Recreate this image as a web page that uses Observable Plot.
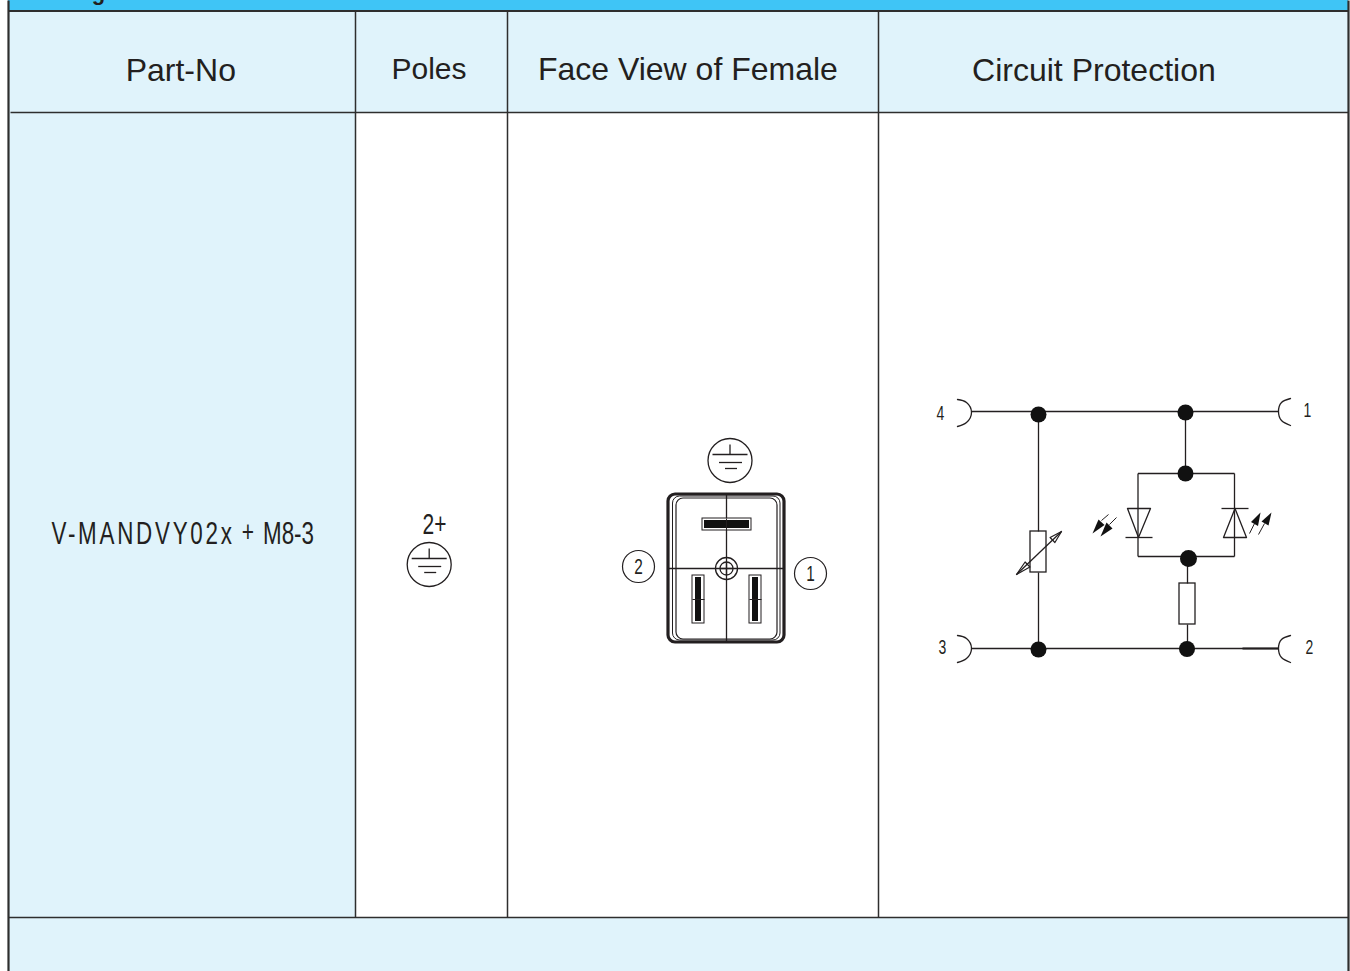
<!DOCTYPE html>
<html><head><meta charset="utf-8">
<script src="https://cdn.jsdelivr.net/npm/d3@7"></script>
<script src="https://cdn.jsdelivr.net/npm/@observablehq/plot@0.6"></script>
<style>
html,body{margin:0;padding:0;background:#fff}
svg{display:block}
.spaced text{letter-spacing:3.9px}
</style></head><body><div id="chart"></div>
<script>
const INK="#231f20", BAND="#3fc5f6", LIGHT="#e0f3fb", RULE="#2e2e2e";
// panels: x1,y1,x2,y2,fill
const panels=[
 [8,0,1348,10,BAND],[8,11,1348,112,LIGHT],[8,112,355,917,LIGHT],[8,917,1348,971,LIGHT]
];
// table rules: x1,y1,x2,y2,width
const rules=[
 [8,0,8,971,2.2],[1348,0,1348,971,2.2],[8,10.5,1348,10.5,2],[10,112,1348,112,1.6],[8,917,1348,917,1.6],
 [355,11,355,917,1.5],[507,11,507,917,1.5],[878,11,878,917,1.5]
];
// header labels
const headers=["Part-No","Poles","Face View of Female","Circuit Protection"];
const headerX=[180.3,428.5,687.4,1093.4], headerY=[80,78,79,80], headerSize=[32,30,32,32];
// circuit wires
const wires=[
 [971,411,1278,411,1.3],[971,648,1278,648,1.3],[1242,648,1278,648,1.8],
 [1038,411,1038,531,1.3],[1038,572,1038,648,1.3],[1185,411,1185,473,1.3],
 [1137.5,473,1234,473,1.3],[1137.5,556,1234,556,1.3],
 [1137.5,473,1137.5,556,1.3],[1234,473,1234,556,1.3],
 [1187,558,1187,583,1.3],[1187,624,1187,648,1.3],
 [1125,537,1152,537,1.3],[1221,508,1248,508,1.3],
 [1016,574,1061,531,1.3],
 [1101,520,1108,514,1],[1109,524,1116,517,1],[1249,533,1254,523,1],[1258,534,1264,523,1]
];
// contact arcs
const arcs=[
 [[957,399],[966,402],[971,412],[966,422],[957,426]],
 [[957,635],[966,638],[971,648],[966,658],[957,662]],
 [[1290,398],[1281,402],[1278,411],[1281,420],[1290,425]],
 [[1290,635],[1281,639],[1278,648],[1281,657],[1290,662]]
];
const nodesX=[1038,1038,1185,1185,1188,1186.5], nodesY=[414,649,412,473,558,648.5], nodesR=[8,8,8,8,8.5,8];
// resistors
const resistors=[[1030,531,1046,572],[1179,583,1195,624]];
// diode triangles
const diodes=[
 [[1127,508],[1150,508],[1138,537],[1127,508]],
 [[1223,537],[1246,537],[1234.5,508],[1223,537]]
];
// small solid and open arrow heads
const solidHeads=[
 [[1092,533],[1098,519],[1104,524.5]],[[1100,536],[1106,522],[1112,528]],
 [[1260,512],[1250.5,521.6],[1257.5,525.4]],[[1271,512],[1261,521],[1268,525]]
];
const openHeads=[
 [[1016,574],[1024.6,561.5],[1029.4,566.5],[1016,574]],
 [[1061,531],[1049.6,537],[1054.4,542],[1061,531]]
];
// earth symbols: centre x, centre y
const earthX=[729.5,428.7], earthY=[460,564];
const earthStrokes=[[-17.5,-6,17.5,-6],[-11,2,12,2],[-5,8,7,8],[0,-16,0,-6]];
// connector
const connectorBoxes=[[668,494,784,642,3.2],[676,498,777,639,1.2],[672.5,496,780,640,1.0]];
const connectorLines=[[726,494,726,642],[668,568,784,568]];
const pinOuter=[[702,518,751,530],[692,575,704,623],[749,575,761,623]];
const pinInner=[[704,520,749,528],[695,577,701,621],[752,577,758,621]];
const pinTicks=[[692,599,704,599],[749,599,761,599],[726,518,726,530]];
const ringR=[11,6.5];
// labels
const small=[["4",940,419,20],["3",942,653,20],["1",1307,416,20],["2",1309,653,20],["2",638,573,22],["1",810,580,22]];
const numberCircles=[[638,566],[810,573]];

const seg=a=>({x1:a[0],y1:a[1],x2:a[2],y2:a[3],w:a[4]});
const path=(pts,i)=>pts.map(p=>({x:p[0],y:p[1],k:i}));
const earthSegs=earthX.flatMap((cx,i)=>earthStrokes.map(s=>({x1:cx+s[0],y1:earthY[i]+s[1],x2:cx+s[2],y2:earthY[i]+s[3]})));
const sans='"Liberation Sans",Arial,sans-serif';
const rect4=a=>({x1:a[0],y1:a[1],x2:a[2],y2:a[3]});
const L={x1:"x1",y1:"y1",x2:"x2",y2:"y2"};

const plot=Plot.plot({
 width:1350,height:971,margin:0,
 x:{domain:[0,1350],range:[0,1350],axis:null},
 y:{domain:[0,971],range:[0,971],axis:null},
 r:{type:"identity"},
 style:{background:"#fff",overflow:"hidden"},
 marks:[
  Plot.rect(panels,{x1:d=>d[0],y1:d=>d[1],x2:d=>d[2],y2:d=>d[3],fill:d=>d[4]}),
  Plot.text(["g"],{x:[98],y:[-1],text:d=>d,lineAnchor:"bottom",fontFamily:sans,fontWeight:"bold",fontSize:22,fill:INK}),
  Plot.link(rules.map(seg),{...L,stroke:RULE,strokeWidth:"w"}),
  Plot.text(headers,{x:(d,i)=>headerX[i],y:(d,i)=>headerY[i],text:d=>d,lineAnchor:"bottom",fontFamily:sans,fill:INK,fontSize:(d,i)=>headerSize[i]}),
  // part number
  Plot.text(["V-MANDVY02x"],{x:[51],y:[543],text:d=>d,textAnchor:"start",lineAnchor:"bottom",fontFamily:sans,fontSize:32,fill:INK,className:"spaced narrow"}),
  Plot.text(["+"],{x:[247.5],y:[541],text:d=>d,lineAnchor:"bottom",fontFamily:sans,fontSize:30,fill:INK,className:"narrow"}),
  Plot.text(["M8-3"],{x:[288],y:[543],text:d=>d,lineAnchor:"bottom",fontFamily:sans,fontSize:32,fill:INK,className:"narrow"}),
  Plot.text(["2+"],{x:[434],y:[533],text:d=>d,lineAnchor:"bottom",fontFamily:sans,fontSize:30,fill:INK,className:"narrow"}),
  // earth symbols
  Plot.dot(earthX,{x:d=>d,y:(d,i)=>earthY[i],r:22,stroke:INK,strokeWidth:1.3,fill:"none"}),
  Plot.link(earthSegs,{...L,stroke:INK,strokeWidth:1.3}),
  // connector
  Plot.rect(connectorBoxes.map(b=>({...rect4(b),w:b[4]})),{...L,fill:"none",stroke:INK,strokeWidth:"w",rx:7}),
  Plot.link(connectorLines.map(seg),{...L,stroke:INK,strokeWidth:1.3}),
  Plot.rect(pinOuter.map(rect4),{...L,fill:"#fff",stroke:INK,strokeWidth:1}),
  Plot.rect(pinInner.map(rect4),{...L,fill:"#111"}),
  Plot.link(pinTicks.map(seg),{...L,stroke:INK,strokeWidth:1}),
  Plot.dot(ringR,{x:[726,726],y:[568,568],r:d=>d,stroke:INK,strokeWidth:1.3,fill:"none"}),
  Plot.link([[720,568,732,568],[726,562,726,574]].map(seg),{...L,stroke:INK,strokeWidth:1.3}),
  Plot.dot(numberCircles,{x:d=>d[0],y:d=>d[1],r:16,stroke:INK,strokeWidth:1.2,fill:"none"}),
  Plot.text(small,{x:d=>d[1],y:d=>d[2],text:d=>d[0],fontSize:d=>d[3],lineAnchor:"bottom",fontFamily:sans,fill:INK,className:"narrow"}),
  // circuit
  Plot.rect(resistors.map(rect4),{...L,fill:"#fff",stroke:INK,strokeWidth:1.3}),
  Plot.line(openHeads.flatMap(path),{x:"x",y:"y",z:"k",stroke:INK,strokeWidth:1.2,fill:"#fff"}),
  Plot.link(wires.map(seg),{...L,stroke:INK,strokeWidth:"w"}),
  Plot.line(arcs.flatMap(path),{x:"x",y:"y",z:"k",curve:"natural",stroke:INK,strokeWidth:1.3}),
  Plot.line(diodes.flatMap(path),{x:"x",y:"y",z:"k",stroke:INK,strokeWidth:1.3,fill:"none"}),
  Plot.line(solidHeads.flatMap(path),{x:"x",y:"y",z:"k",stroke:"none",fill:"#111"}),
  Plot.dot(nodesX,{x:d=>d,y:(d,i)=>nodesY[i],r:(d,i)=>nodesR[i],fill:"#111",stroke:"none"})
 ]
});
// the reference labels are set in a condensed face: squeeze them horizontally
plot.querySelectorAll(".narrow text").forEach(t=>{
  t.setAttribute("transform",(t.getAttribute("transform")||"")+" scale(0.7,1)");
});
document.getElementById("chart").append(plot);
</script></body></html>
